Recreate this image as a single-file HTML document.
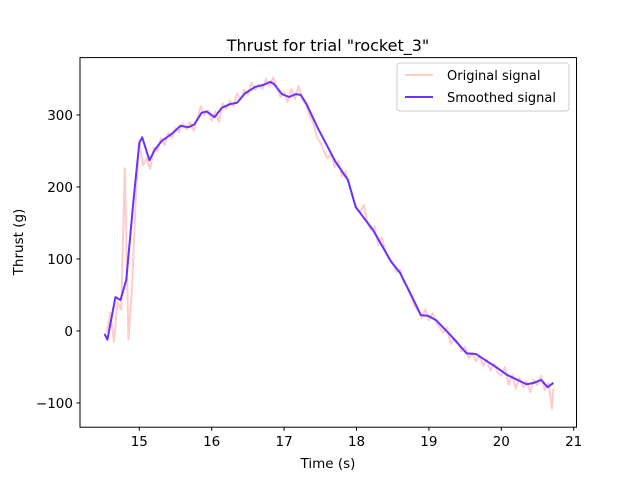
<!DOCTYPE html>
<html><head><meta charset="utf-8"><style>
body{margin:0;background:#fff;}
svg text{font-family:"DejaVu Sans","Liberation Sans",sans-serif;}
</style></head><body>
<svg id="chart" width="640" height="480" viewBox="0 0 640 480">
<rect width="640" height="480" fill="#fff"/>
<text x="328" y="51" font-size="16" text-anchor="middle">Thrust for trial "rocket_3"</text>
<g id="plot"></g>
<rect x="80" y="57.6" width="496.5" height="369.6" fill="none" stroke="#000" stroke-width="1"/>
<g id="ticks"></g>
<text x="328" y="468" font-size="13.5" text-anchor="middle">Time (s)</text>
<text transform="translate(23,242) rotate(-90)" font-size="13.5" text-anchor="middle">Thrust (g)</text>
<g>
<rect x="397" y="63" width="172" height="48" rx="3" fill="#fff" fill-opacity="0.8" stroke="#ccc"/>
<line x1="405" y1="75" x2="433" y2="75" stroke="#ffcccc" stroke-width="2"/>
<text x="447" y="80" font-size="13">Original signal</text>
<line x1="405" y1="97" x2="433" y2="97" stroke="#6633ff" stroke-width="2"/>
<text x="447" y="102" font-size="13">Smoothed signal</text>
</g>
</svg>
<script>
const origTimes = [14.55,14.60,14.65,14.70,14.75,14.80,14.85,14.90,14.95,15.00,15.05,15.10,15.15,15.20,15.25,15.30,15.35,15.40,15.45,15.50,15.55,15.60,15.65,15.70,15.75,15.80,15.85,15.90,15.95,16.00,16.05,16.10,16.15,16.20,16.25,16.30,16.35,16.40,16.45,16.50,16.55,16.60,16.65,16.70,16.75,16.80,16.85,16.90,16.95,17.00,17.05,17.10,17.15,17.20,17.25,17.30,17.35,17.40,17.45,17.50,17.55,17.60,17.65,17.70,17.75,17.80,17.85,17.90,17.95,18.00,18.05,18.10,18.15,18.20,18.25,18.30,18.35,18.40,18.45,18.50,18.55,18.60,18.65,18.70,18.75,18.80,18.85,18.90,18.95,19.00,19.05,19.10,19.15,19.20,19.25,19.30,19.35,19.40,19.45,19.50,19.55,19.60,19.65,19.70,19.75,19.80,19.85,19.90,19.95,20.00,20.05,20.10,20.15,20.20,20.25,20.30,20.35,20.40,20.45,20.50,20.55,20.60,20.65,20.70,20.72];
const origValues = [-2,25,-15,40,30,226,-12,60,180,265,230,240,225,255,250,268,258,275,268,282,276,288,280,290,278,295,312,300,306,292,305,290,316,308,320,312,330,322,335,328,345,335,342,336,350,340,352,338,325,332,318,336,322,340,322,315,300,290,270,262,250,240,245,228,236,215,222,205,185,170,165,175,150,140,145,120,130,110,100,95,82,85,68,60,48,35,28,18,30,15,25,12,5,-2,5,-18,-10,-15,-28,-22,-38,-30,-42,-35,-48,-40,-55,-45,-58,-62,-50,-75,-60,-80,-65,-78,-70,-85,-68,-75,-62,-82,-72,-108,-80];
const smoothTimes = [14.52,14.56,14.67,14.74,14.82,14.92,15.00,15.04,15.14,15.21,15.31,15.45,15.57,15.68,15.76,15.86,15.93,16.04,16.14,16.25,16.35,16.46,16.60,16.72,16.81,16.86,16.97,17.07,17.16,17.23,17.31,17.46,17.71,17.88,17.99,18.23,18.48,18.60,18.74,18.89,18.99,19.10,19.30,19.52,19.65,19.94,20.08,20.35,20.45,20.55,20.64,20.72];
const smoothValues = [-4,-12,47,43,71,182,261,269,237,251,264,274,285,283,287,303,305,297,310,315,317,330,339,342,346,343,329,325,329,328,315,283,235,210,172,140,96,81,53,22,21,15,-6,-31,-32,-51,-61,-74,-72,-68,-78,-72];
const xTicks = [15,16,17,18,19,20,21];
const yTicks = [-100,0,100,200,300];

const NS = 'http://www.w3.org/2000/svg';
function xs(t){ return 139.3 + (t - 15) * 72.4; }
function ys(v){ return 331 - v * 0.72; }
function mk(tag, attrs, parent){ const e = document.createElementNS(NS, tag); for (const k in attrs) e.setAttribute(k, attrs[k]); parent.appendChild(e); return e; }

const plot = document.getElementById('plot');
const o = mk('polyline', {points: origTimes.map((t,i)=>xs(t)+','+ys(origValues[i])).join(' '), fill:'none', stroke:'#ffcccc', 'stroke-width':2, 'stroke-linejoin':'round'}, plot);


const s = mk('polyline', {points: smoothTimes.map((t,i)=>xs(t)+','+ys(smoothValues[i])).join(' '), fill:'none', stroke:'#6633ff', 'stroke-width':2, 'stroke-linejoin':'round'}, plot);



const tg = document.getElementById('ticks');
xTicks.forEach(t => {
  const l = mk('line', {x1:xs(t), x2:xs(t), y1:427.2, y2:430.7, stroke:'#000'}, tg);
  
  
  const tx = mk('text', {x:xs(t), y:446, 'font-size':13.5, 'text-anchor':'middle'}, tg);
  tx.textContent = t;
  
  
});
yTicks.forEach(v => {
  const l = mk('line', {x1:76.5, x2:80, y1:ys(v), y2:ys(v), stroke:'#000'}, tg);
  
  
  const tx = mk('text', {x:73, y:ys(v)+5, 'font-size':13.5, 'text-anchor':'end'}, tg);
  tx.textContent = v < 0 ? '\u2212' + Math.abs(v) : v;
  
  
});
</script>
</body></html>
